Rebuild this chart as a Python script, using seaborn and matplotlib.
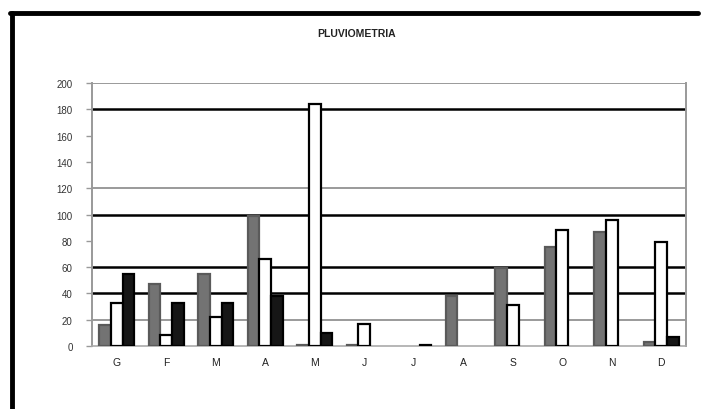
import numpy as np
import pandas as pd
import matplotlib
matplotlib.use("Agg")
import matplotlib.pyplot as plt
import seaborn as sns
from matplotlib.lines import Line2D

months = ["G", "F", "M", "A", "M", "J", "J", "A", "S", "O", "N", "D"]
series = ["S1", "S2", "S3"]
s1_vals = [16, 47, 55, 99, 1, 1, 0, 38, 59, 75, 87, 3]
s2_vals = [33, 8, 22, 66, 184, 17, 0, 0, 31, 88, 96, 79]
s3_vals = [55, 33, 33, 38, 10, 0, 1, 0, 0, 0, 0, 7]
yticks = [0, 20, 40, 60, 80, 100, 120, 140, 160, 180, 200]
title = "PLUVIOMETRIA"

rows = []
for i, m in enumerate(months):
    for s, vals in zip(series, [s1_vals, s2_vals, s3_vals]):
        rows.append({"pos": i, "month": m, "serie": s, "val": vals[i]})
df = pd.DataFrame(rows)

sns.set_theme(style="white")
plt.rcParams['font.family'] = ['Liberation Sans', 'DejaVu Sans']

fig = plt.figure(figsize=(7.04, 4.10), dpi=100)
ax = fig.add_axes([0.1307, 0.1537, 0.8437, 0.6413])

fills = ["#737373", "#ffffff", "#161616"]
edges = ["#5a5a5a", "#000000", "#000000"]
sns.barplot(data=df, x="pos", y="val", hue="serie", palette=fills,
            width=0.7, ax=ax, legend=False, saturation=1, native_scale=False)
for cont, ec in zip(ax.containers, edges):
    for p in cont.patches:
        p.set_edgecolor(ec)
        p.set_linewidth(1.6)
        p.set_zorder(3)
        if p.get_height() == 0:
            p.set_visible(False)

ax.set_ylim(0, 200)
ax.set_xlim(-0.5, 11.5)

# gridlines (as they appear in the reference)
for v, c, lw in [(20, "#9a9a9a", 1.4), (40, "#000000", 1.8), (60, "#000000", 1.8),
                 (100, "#000000", 1.8), (120, "#9a9a9a", 1.4), (180, "#000000", 1.8),
                 (200, "#9a9a9a", 1.4)]:
    ax.axhline(v, color=c, lw=lw, zorder=1)

ax.set_yticks(yticks)
ax.set_yticklabels([str(t) for t in yticks], fontsize=7, color="#333333")
ax.set_xticks(range(len(months)))
ax.set_xticklabels(months, fontsize=7.5, color="#222222")
ax.set_xticks(np.arange(-0.5, 12, 1), minor=True)
ax.tick_params(axis="x", which="major", length=0, pad=8)
ax.tick_params(axis="x", which="minor", length=3, color="#777777", width=1, direction="out")
ax.tick_params(axis="y", length=4, color="#999999", width=1, direction="out", pad=10, left=True)
ax.set_xlabel("")
ax.set_ylabel("")

for side in ["left", "right"]:
    ax.spines[side].set_color("#999999")
    ax.spines[side].set_linewidth(1.4)
ax.spines["top"].set_visible(False)
ax.spines["bottom"].set_color("#aaaaaa")
ax.spines["bottom"].set_linewidth(1.2)

fig.text(0.507, 0.918, title, ha="center", va="center", fontsize=7.5,
         fontweight="bold", color="#222222")

# outer frame (top and left)
fig.add_artist(Line2D([0.014, 0.992], [0.965, 0.965], color="black", lw=3.5,
                      transform=fig.transFigure))
fig.add_artist(Line2D([0.017, 0.017], [0.0, 0.965], color="black", lw=3.5,
                      transform=fig.transFigure))

fig.savefig("out.png", dpi=100)
